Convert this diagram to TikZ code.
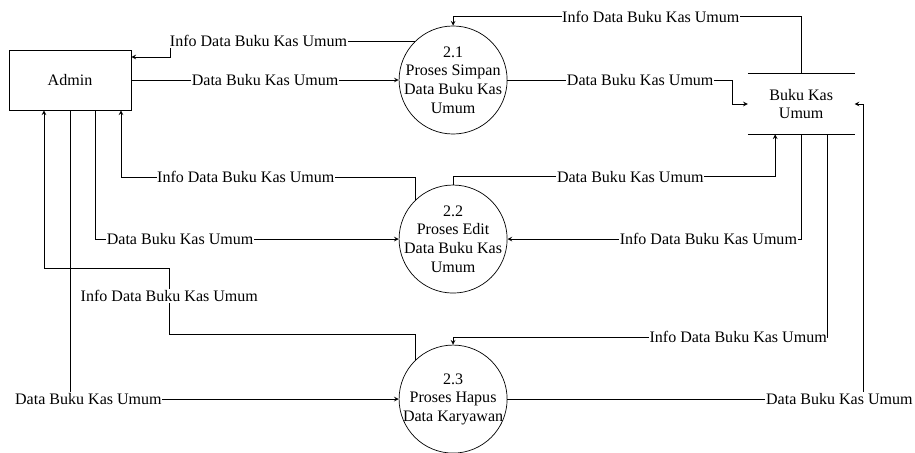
\documentclass[tikz,border=0pt]{standalone}
\usepackage{fontspec}
\setmainfont{Liberation Serif}
\usepackage{tikz}
\usetikzlibrary{shapes.geometric, arrows}
\tikzstyle{entity} = [rectangle, minimum width=3.05cm, minimum height=1.5cm, text centered, draw=black]
\tikzstyle{process} = [circle, minimum size=2.7cm, inner sep=-0.5cm, align=center, draw=black]
\tikzstyle{datastore} = [rectangle, minimum width=2.65cm, minimum height=1.5cm, align=center]
\tikzstyle{flowlabel} = [fill=white, inner xsep=0.5pt, inner ysep=1pt]
\tikzstyle{arrow} = [->,>=stealth]

\begin{document}
\begin{tikzpicture}[x=0.025cm, y=-0.025cm, line width=0.5pt, font=\fontsize{11.4}{13.2}\selectfont]
\useasboundingbox (0,0) rectangle (915,453);

%% NODES

\node (admin) [entity] at (70,80) {Admin};
\node (p21) [process, right of=admin, node distance=9.575cm] {2.1\\Proses Simpan\\Data Buku Kas\\Umum};
\node (p22) [process, below of=p21, node distance=3.975cm] {2.2\\Proses Edit\\Data Buku Kas\\Umum};
\node (p23) [process, below of=p22, node distance=4cm] {2.3\\Proses Hapus\\Data Karyawan};
\node (bku) [datastore, right of=p21, node distance=8.7cm, yshift=-0.6cm] {Buku Kas\\Umum};
\draw (bku.north west) -- (bku.north east);
\draw (bku.south west) -- (bku.south east);

%% ARROWS

\draw [arrow] (bku.north) -- ++(0,-57) -| node[flowlabel, pos=0.216] {Info Data Buku Kas Umum} (p21.north);
\draw [arrow] (p21.134) -- node[flowlabel, pos=0.64] {Info Data Buku Kas Umum} ++(-245,0) |- ([yshift=0.575cm]admin.east);
\draw [arrow] (admin.east) -- node[flowlabel] {Data Buku Kas Umum} (p21.west);
\draw [arrow] (p21.east) -- node[flowlabel, pos=0.59] {Data Buku Kas Umum} ++(225,0) |- (bku.west);
\draw [arrow] (p22.134) -- ++(0,-23) -| node[flowlabel, pos=0.288] {Info Data Buku Kas Umum} ([xshift=1.275cm]admin.south);
\draw [arrow] (p22.north) -- ++(0,-8) -| node[flowlabel, pos=0.275] {Data Buku Kas Umum} ([xshift=-0.65cm]bku.south);
\draw [arrow] ([xshift=0.625cm]admin.south) |- node[flowlabel, pos=0.64] {Data Buku Kas Umum} (p22.west);
\draw [arrow] (bku.south) |- node[flowlabel, pos=0.658] {Info Data Buku Kas Umum} (p22.east);
\draw [arrow] (p23.134) -- ++(0,-26) -- ++(-246,0) -- node[flowlabel, pos=0.58] {Info Data Buku Kas Umum} ++(0,-66) -| ([xshift=-0.65cm]admin.south);
\draw [arrow] (admin.south) |- node[flowlabel, pos=0.528] {Data Buku Kas Umum} (p23.west);
\draw [arrow] ([xshift=0.65cm]bku.south) -- ++(0,203) -| node[flowlabel, pos=0.119] {Info Data Buku Kas Umum} (p23.north);
\draw [arrow] (p23.east) -| node[flowlabel, pos=0.466] {Data Buku Kas Umum} ([xshift=0.225cm]bku.east) -- (bku.east);

\end{tikzpicture}
\end{document}
